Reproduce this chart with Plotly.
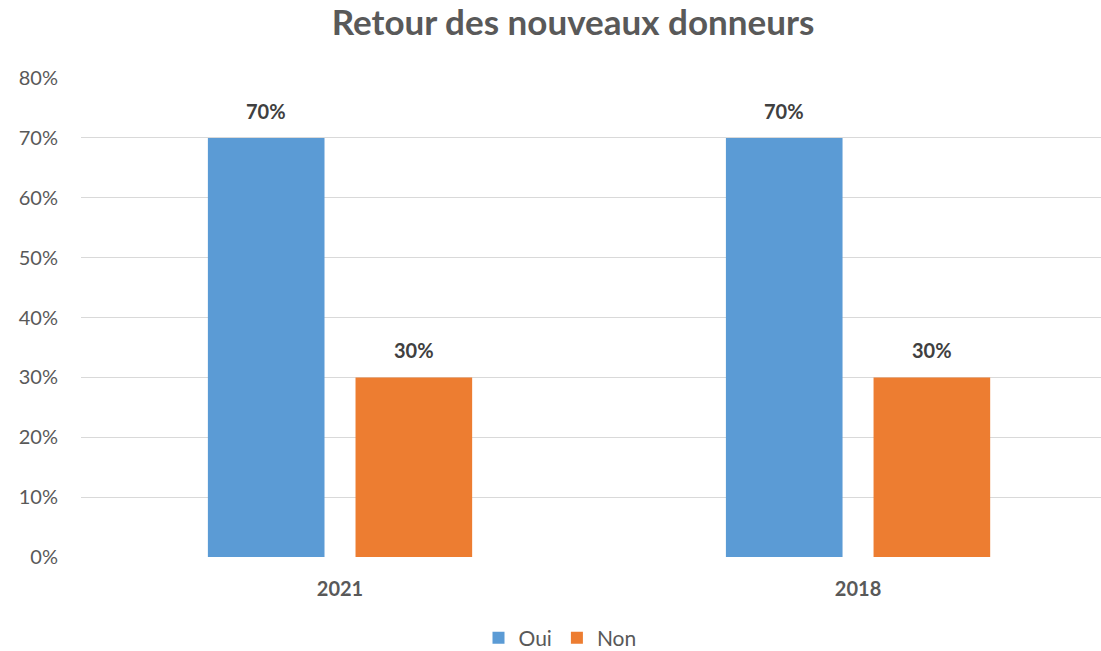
import plotly.graph_objects as go

categories = ["2021", "2018"]
oui_values = [0.70, 0.70]
non_values = [0.30, 0.30]
series_names = ["Oui", "Non"]
y_tick_values = [0, 0.1, 0.2, 0.3, 0.4, 0.5, 0.6, 0.7, 0.8]
y_tick_labels = ["0%", "10%", "20%", "30%", "40%", "50%", "60%", "70%", "80%"]
title_text = "Retour des nouveaux donneurs"

colors = ["#5B9BD5", "#ED7D31"]
FONT = "Lato"

fig = go.Figure()
for name, vals, col in zip(series_names, [oui_values, non_values], colors):
    fig.add_trace(go.Bar(
        x=categories, y=vals, name=name,
        marker=dict(color=col, line=dict(width=0)),
    ))

# data labels as annotations computed from the data
bargap = 0.43
bargroupgap = 0.21
slot = (1 - bargap) / 2
offsets = [-slot / 2, slot / 2]
annotations = []
for s, vals in enumerate([oui_values, non_values]):
    for i, v in enumerate(vals):
        annotations.append(dict(
            x=i + offsets[s], y=v, xref="x", yref="y",
            text=f"<b>{round(v * 100)}%</b>", showarrow=False,
            yanchor="middle", yshift=27,
            font=dict(family=FONT, size=20, color="#404040"),
        ))

fig.update_layout(
    width=1101, height=651,
    paper_bgcolor="white", plot_bgcolor="white",
    margin=dict(l=81, r=0, t=78, b=94),
    barmode="group", bargap=bargap, bargroupgap=bargroupgap,
    title=dict(text=f"<b>{title_text}</b>", x=573 / 1101, xref="container", xanchor="center",
               y=1 - 23 / 651, yref="container", yanchor="middle",
               font=dict(family=FONT, size=35, color="#595959")),
    legend=dict(orientation="h", x=560 / 1101, xref="container", xanchor="center",
                y=1 - 638 / 651, yref="container", yanchor="middle",
                font=dict(family=FONT, size=21, color="#595959"),
                itemwidth=30, traceorder="normal"),
    annotations=annotations,
    font=dict(family=FONT, color="#595959"),
)
fig.update_xaxes(
    type="category", range=[-0.5, 1.469],
    showgrid=False, zeroline=False, showline=False, ticks="",
    tickfont=dict(family=FONT, size=20, color="#595959", weight="bold"),
    ticklabelstandoff=18,
)
fig.update_yaxes(
    range=[0, 0.8], tickvals=y_tick_values, ticktext=y_tick_labels,
    showgrid=True, gridcolor="#D9D9D9", gridwidth=1.3,
    zeroline=False, showline=False, ticks="",
    tickfont=dict(family=FONT, size=20, color="#595959"),
    ticklabelstandoff=22,
)
fig.write_html("out.html", config={"displayModeBar": False},
               post_script="document.body.style.margin='0';")
